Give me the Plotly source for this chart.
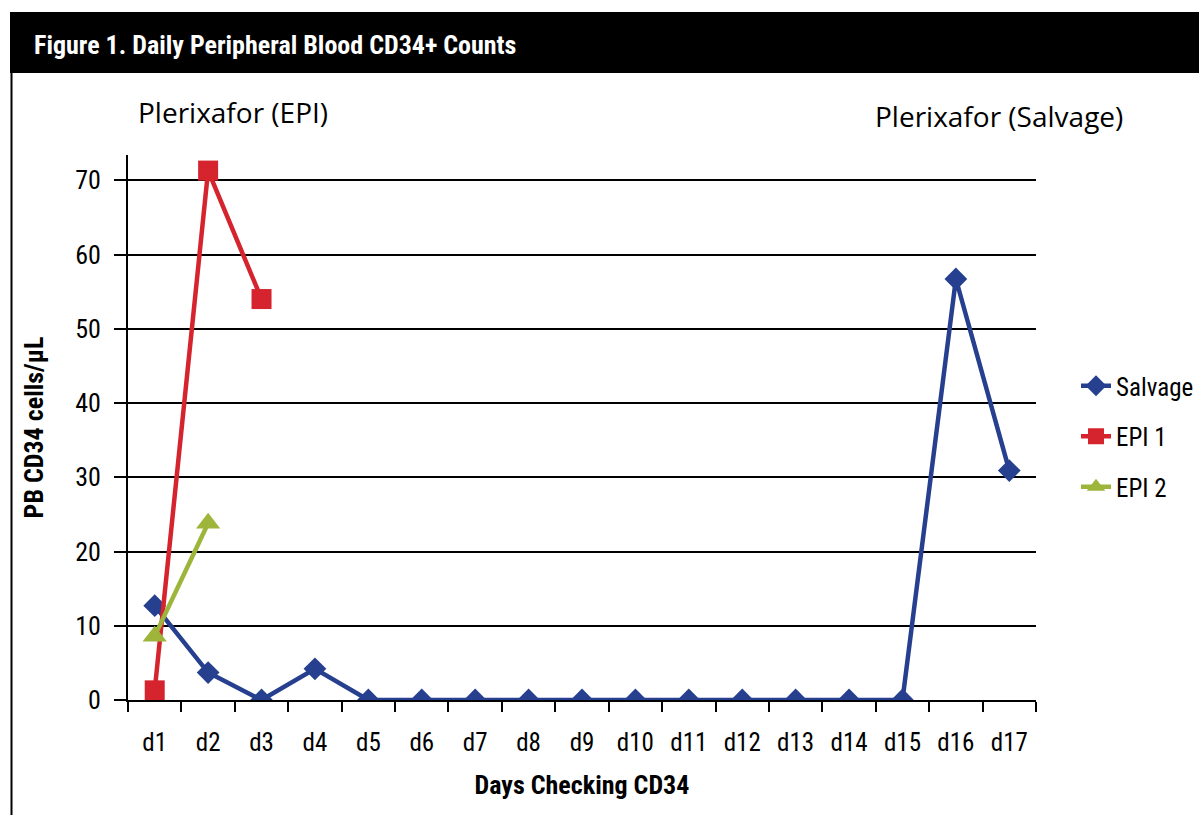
import plotly.graph_objects as go

# Daily peripheral blood CD34+ counts by collection day
days = [f"d{i}" for i in range(1, 18)]
salvage = [12.7, 3.7, 0, 4.2, 0, 0, 0, 0, 0, 0, 0, 0, 0, 0, 0, 56.7, 30.9]
epi1_days = ["d1", "d2", "d3"]
epi1 = [1.3, 71.3, 54.0]
epi2_days = ["d1", "d2"]
epi2 = [8.6, 23.8]
y_ticks = [0, 10, 20, 30, 40, 50, 60, 70]

W, H = 1199, 815
L, R, T, B = 128, 1036, 155, 700  # plot area in pixels


def px(x):
    return (x - L) / (R - L)


def py(y):
    return (B - y) / (B - T)


NARROW = "Roboto Condensed, Liberation Sans Narrow, Roboto, sans-serif"
REG = "Open Sans, Noto Sans, sans-serif"

BLUE = "#263F8E"
RED = "#D5242D"
GREEN = "#9DB53A"

fig = go.Figure()
fig.add_trace(go.Scatter(
    x=days, y=salvage, name="Salvage", mode="lines+markers", legendgroup="a",
    line=dict(color=BLUE, width=4.5),
    marker=dict(symbol="diamond", size=17.5, color=BLUE),
))
fig.add_trace(go.Scatter(
    x=epi1_days, y=epi1, name="EPI 1", mode="lines+markers", legendgroup="b",
    line=dict(color=RED, width=4.5),
    marker=dict(symbol="square", size=20, color=RED),
))
fig.add_trace(go.Scatter(
    x=epi2_days, y=epi2, name="EPI 2", mode="lines+markers", legendgroup="c",
    line=dict(color=GREEN, width=4.5),
    marker=dict(symbol="triangle-up", size=21, color=GREEN),
))

# Header band and left frame rule
fig.add_shape(type="rect", xref="paper", yref="paper",
              x0=px(10), x1=px(1205), y0=py(73), y1=py(12),
              fillcolor="black", line=dict(width=0), layer="above")
fig.add_shape(type="line", xref="paper", yref="paper",
              x0=px(11.5), x1=px(11.5), y0=py(73), y1=py(820),
              line=dict(color="black", width=2))

fig.add_annotation(text="<b>Figure 1. Daily Peripheral Blood CD34+ Counts</b>",
                   xref="paper", yref="paper", x=px(32), y=py(45),
                   xanchor="left", yanchor="middle", showarrow=False,
                   font=dict(family=NARROW, size=26, color="white"))
fig.add_annotation(text="Plerixafor (EPI)", xref="paper", yref="paper",
                   x=px(136), y=py(112), xanchor="left", yanchor="middle",
                   showarrow=False, font=dict(family=REG, size=28, color="black"))
fig.add_annotation(text="Plerixafor (Salvage)", xref="paper", yref="paper",
                   x=px(873), y=py(116), xanchor="left", yanchor="middle",
                   showarrow=False, font=dict(family=REG, size=28, color="black"))

fig.update_layout(
    width=W, height=H,
    margin=dict(l=L, r=W - R, t=T, b=H - B, pad=0, autoexpand=False),
    paper_bgcolor="white", plot_bgcolor="white",
    showlegend=True,
    legend=dict(x=px(1076), y=py(363), xanchor="left", yanchor="top",
                font=dict(family=NARROW, size=25, color="black"),
                tracegroupgap=15, itemwidth=30, bgcolor="rgba(0,0,0,0)"),
    xaxis=dict(
        type="category", categoryorder="array", categoryarray=days,
        range=[-0.5, 16.5], showgrid=False, showline=True, linecolor="black",
        linewidth=2, ticks="outside", tickson="boundaries", ticklen=10,
        tickwidth=2, tickcolor="black",
        tickfont=dict(family=NARROW, size=25, color="black"),
        ticklabelstandoff=19,
        title=dict(text="<b>Days Checking CD34</b>", standoff=20,
                   font=dict(family=NARROW, size=26, color="black")),
        zeroline=False,
    ),
    yaxis=dict(
        range=[0, 73.4], tickvals=y_ticks, showgrid=True, gridcolor="black",
        gridwidth=2, showline=True, linecolor="black", linewidth=2,
        ticks="outside", ticklen=12, tickwidth=2, tickcolor="black",
        tickfont=dict(family=NARROW, size=26, color="black"),
        ticklabelstandoff=8,
        title=dict(text="<b>PB CD34 cells/µL</b>", standoff=24,
                   font=dict(family=NARROW, size=26, color="black")),
        zeroline=False,
    ),
)

fig.write_html("out.html")
